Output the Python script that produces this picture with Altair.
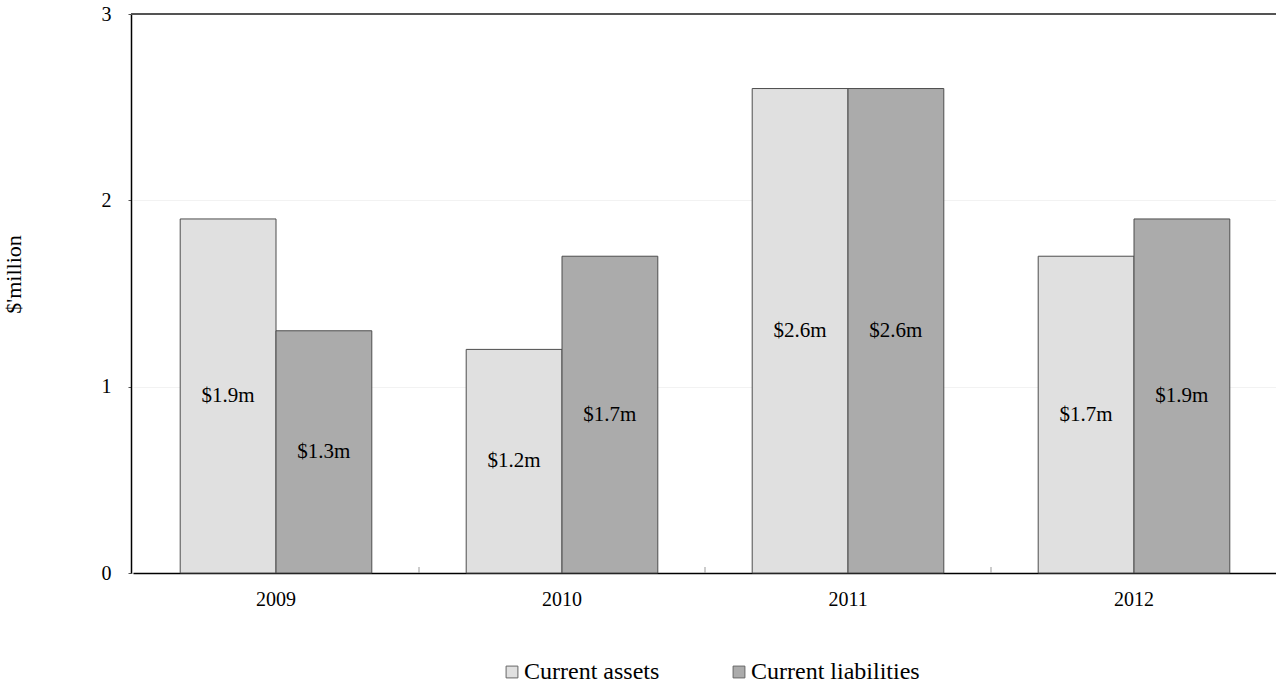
import altair as alt
import pandas as pd

# Year categories and the two balance-sheet series ($ million)
years = ["2009", "2010", "2011", "2012"]
series = ["Current assets", "Current liabilities"]
current_assets = [1.9, 1.2, 2.6, 1.7]
current_liabilities = [1.3, 1.7, 2.6, 1.9]
colors = ["#e0e0e0", "#ababab"]
y_ticks = [0, 1, 2, 3]
group_edges = [1, 2, 3]  # boundaries between year groups, in group units

rows = []
for yr, a, l in zip(years, current_assets, current_liabilities):
    rows.append({"year": yr, "series": series[0], "value": a})
    rows.append({"year": yr, "series": series[1], "value": l})
df = pd.DataFrame(rows)
df["label"] = df["value"].map(lambda v: f"${v:.1f}m")
df["mid"] = df["value"] / 2

W, H = 1145, 559
FONT = "Liberation Serif"
X_RANGE = [2, W + 1]

x_scale = alt.Scale(domain=years, range=X_RANGE, paddingInner=0.33, paddingOuter=0.165)
y_scale = alt.Scale(domain=[0, 3], nice=False)
off_scale = alt.Scale(domain=series, paddingInner=0, paddingOuter=0)

base = alt.Chart(df)

bars = base.mark_bar(stroke="#4d4d4d", strokeWidth=1).encode(
    x=alt.X("year:N", scale=x_scale,
            axis=alt.Axis(title=None, ticks=False, labelAngle=0, labelFont=FONT,
                          labelFontSize=20, labelColor="#000", labelPadding=16,
                          domainColor="#000", domainWidth=1.5, grid=False)),
    xOffset=alt.XOffset("series:N", scale=off_scale),
    y=alt.Y("value:Q", scale=y_scale,
            axis=alt.Axis(title="$'million", values=y_ticks, format="d",
                          titleFont=FONT, titleFontSize=22, titleFontWeight="normal",
                          titleColor="#000", titleX=-106, titleY=260, titleAngle=270,
                          labelFont=FONT, labelFontSize=20, labelColor="#000",
                          labelPadding=17, tickSize=3, tickColor="#555",
                          domainColor="#000", domainWidth=1.5,
                          grid=True, gridColor="#f2f2f2", gridWidth=1)),
    color=alt.Color("series:N", scale=alt.Scale(domain=series, range=colors),
                    legend=alt.Legend(title=None, orient="none", direction="horizontal",
                                      legendX=369, legendY=646, symbolType="square",
                                      symbolSize=140, symbolStrokeColor="#666",
                                      symbolStrokeWidth=1, labelFont=FONT,
                                      labelFontSize=24, labelColor="#000",
                                      labelOffset=0, columnPadding=67,
                                      labelLimit=400)),
)

labels = base.mark_text(font=FONT, fontSize=21, color="#000", baseline="middle").encode(
    x=alt.X("year:N", scale=x_scale, axis=None),
    xOffset=alt.XOffset("series:N", scale=off_scale),
    y=alt.Y("mid:Q", scale=y_scale),
    text="label:N",
)

# short upward ticks between the year groups
sep_ticks = alt.Chart(pd.DataFrame({"edge": group_edges})).mark_rule(
    color="#999", strokeWidth=1
).encode(
    x=alt.X("edge:Q", scale=alt.Scale(domain=[0, len(years)], range=X_RANGE,
                                      nice=False, zero=False), axis=None),
    y=alt.value(H),
    y2=alt.value(H - 6),
)

top_line = base.mark_rule(color="#555", strokeWidth=1.5).encode(
    x=alt.value(0), x2=alt.value(W), y=alt.value(0)
)

chart = alt.layer(bars, labels, sep_ticks, top_line).resolve_scale(x="independent").properties(
    width=W, height=H,
    autosize=alt.AutoSizeParams(type="none"),
    padding={"left": 131, "top": 14, "right": 0, "bottom": 115},
).configure_view(stroke=None).configure(background="white")

chart.save("out.html", embed_options={"renderer": "svg", "actions": False})
